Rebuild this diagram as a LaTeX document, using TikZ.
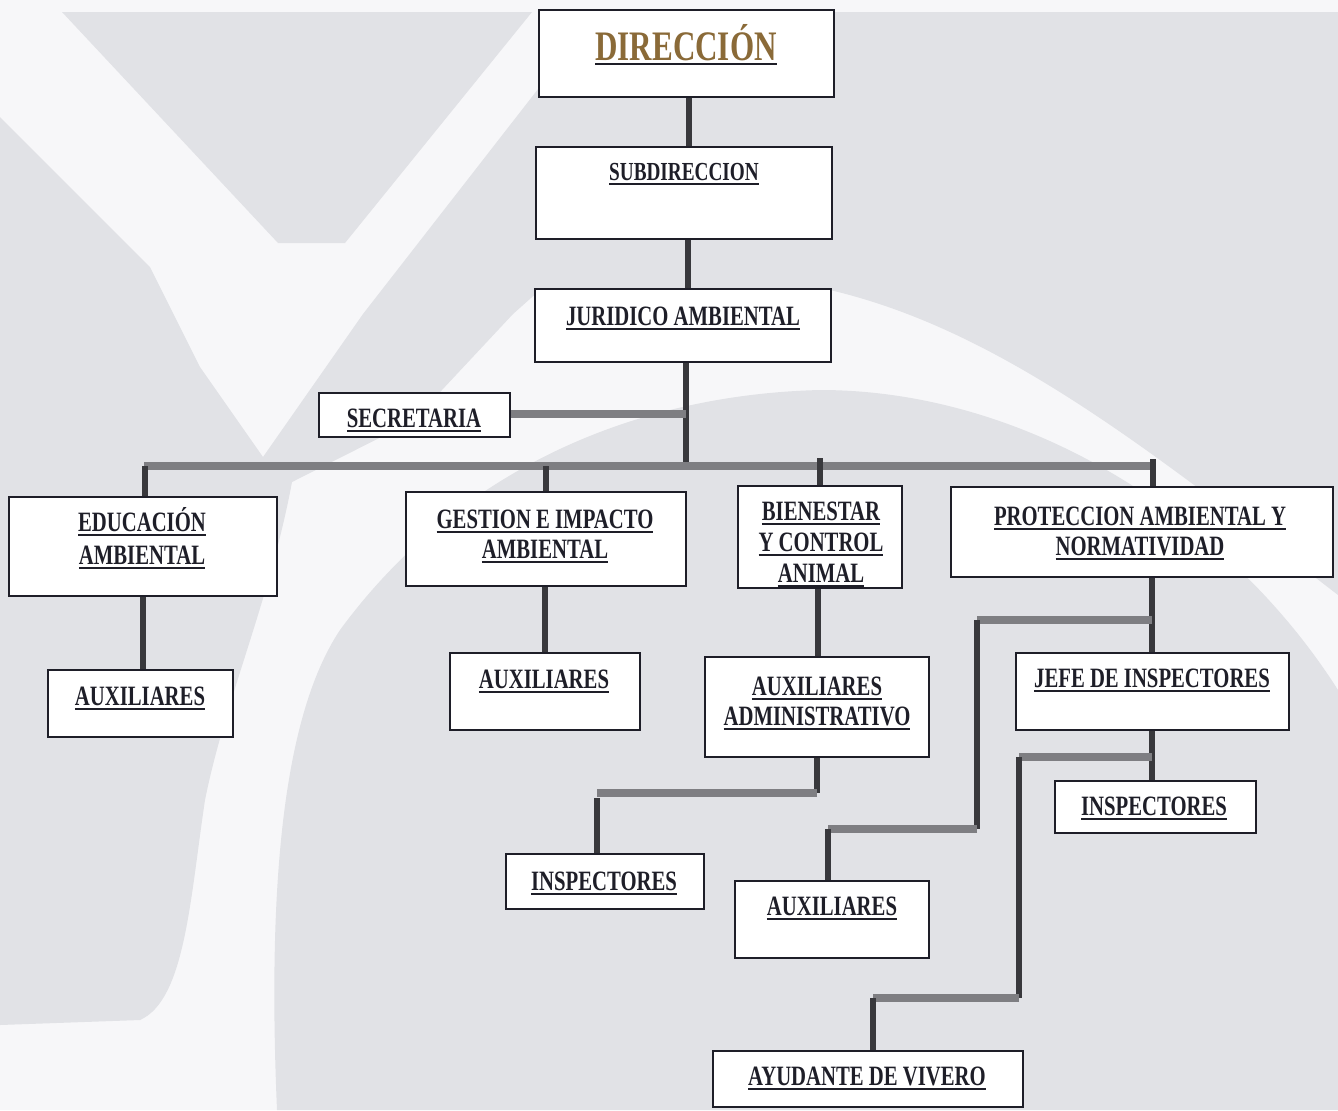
\documentclass[tikz,border=0pt]{standalone}
\usepackage{fontspec}
\newfontfamily\cf[FakeStretch=0.74]{Liberation Serif}
\usetikzlibrary{fit}
\definecolor{bgw}{HTML}{F7F7F9}
\definecolor{bgg}{HTML}{E1E2E6}
\definecolor{ink}{HTML}{1E1E28}
\definecolor{dirc}{HTML}{8A6A38}
\definecolor{vcol}{HTML}{38383C}
\definecolor{hcol}{HTML}{7E7E82}
\newcommand{\ulx}[1]{\setbox0=\hbox{#1}\rlap{\color{ink}\rule[-2.3pt]{\wd0}{1pt}}\box0}
\tikzset{
  box/.style={draw=ink, line width=1.2pt, fill=white, inner sep=0pt},
  lbl/.style={anchor=base, inner sep=0pt, text=ink, font=\cf\bfseries\fontsize{14}{16}\selectfont},
  vl/.style={draw=vcol, line width=2.6pt},
  hl/.style={draw=hcol, line width=3.6pt},
}
\begin{document}
\begin{tikzpicture}[x=0.5pt, y=-0.5pt]
\useasboundingbox (0,0) rectangle (1338,1110);
% background watermark
\fill[bgw] (0,0) rectangle (1338,1110);
\fill[bgg] (62,12) -- (532,12) -- (345,243) -- (278,243) -- cycle;
\fill[bgg] (0,117) -- (150,267) -- (200,367) -- (263,457) -- (363,314) -- (598,12) -- (1338,12) -- (1338,595)
  .. controls (1150,450) and (1000,330) .. (830,290) -- (540,290) -- (513,314) -- (413,421) -- (292,482)
  .. controls (270,600) and (225,700) .. (205,800) .. controls (190,900) and (185,1000) .. (140,1020)
  -- (0,1025) -- cycle;
\fill[bgg] (277,1110) .. controls (268,900) and (280,720) .. (340,630)
  .. controls (450,480) and (620,395) .. (820,390)
  .. controls (1030,390) and (1230,520) .. (1338,690) -- (1338,1110) -- cycle;

% coordinates for connectors
\coordinate (busL) at (144,466);
\coordinate (busR) at (1155,466);
\coordinate (pj) at (1153,459);
\coordinate (bt) at (820,458);
\coordinate (k1) at (817,793);
\coordinate (k2) at (597,793);
\coordinate (k3) at (597,798);
\coordinate (b1) at (977,620);
\coordinate (b2) at (977,829);
\coordinate (b3) at (828,829);
\coordinate (c1) at (1019,757);
\coordinate (c2) at (1019,998);
\coordinate (c3) at (873,998);

% connectors (drawn first, boxes on top)
\draw[vl] (689,97) -- (689,147);
\draw[vl] (688,239) -- (688,289);
\draw[vl] (686,362) -- (686,466);
\draw[hl] (510,414) -- (686,414);
\draw[hl] (busL) -- (busR);
\draw[vl] (145,466) -- (145,497);
\draw[vl] (546,466) -- (546,492);
\draw[vl] (bt) -- (820,486);
\draw[vl] (pj) -- (1153,487);
\draw[vl] (143,596) -- (143,670);
\draw[vl] (545,586) -- (545,653);
\draw[vl] (818,588) -- (818,657);
\draw[vl] (1152,577) -- (1152,653);
\draw[vl] (1152,730) -- (1152,781);
\draw[vl] (k1 |- 0,757) -- (k1);
\draw[hl] (k1) -- (k2);
\draw[vl] (k3) -- (597,854);
\draw[hl] (1152,620) -- (b1);
\draw[vl] (b1) -- (b2);
\draw[hl] (b2) -- (b3);
\draw[vl] (b3) -- (828,881);
\draw[hl] (1152,757) -- (c1);
\draw[vl] (c1) -- (c2);
\draw[hl] (c2) -- (c3);
\draw[vl] (c3) -- (873,1051);

% boxes
\node[box, fit={(539,10) (834,97)}] (dir) {};
\node[box, fit={(536,147) (832,239)}] (sub) {};
\node[box, fit={(535,289) (831,362)}] (jur) {};
\node[box, fit={(319,393) (510,437)}] (sec) {};
\node[box, fit={(9,497) (277,596)}] (edu) {};
\node[box, fit={(406,492) (686,586)}] (ges) {};
\node[box, fit={(738,486) (902,588)}] (bien) {};
\node[box, fit={(951,487) (1333,577)}] (prot) {};
\node[box, fit={(48,670) (233,737)}] (auxE) {};
\node[box, fit={(450,653) (640,730)}] (auxG) {};
\node[box, fit={(705,657) (929,757)}] (auxA) {};
\node[box, fit={(1016,653) (1289,730)}] (jefe) {};
\node[box, fit={(1055,781) (1256,833)}] (insR) {};
\node[box, fit={(506,854) (704,909)}] (insM) {};
\node[box, fit={(735,881) (929,958)}] (auxB) {};
\node[box, fit={(713,1051) (1023,1107)}] (ayu) {};

% texts
\node[lbl, text=dirc, font=\cf\bfseries\fontsize{21}{24}\selectfont] (dir-t) at (686,60) {\ulx{DIRECCIÓN}};
\node[lbl, font=\cf\bfseries\fontsize{13}{15}\selectfont] (sub-t) at (684,180) {\ulx{SUBDIRECCION}};
\node[lbl] (jur-t) at (683,325) {\ulx{JURIDICO AMBIENTAL}};
\node[lbl] (sec-t) at (414,427) {\ulx{SECRETARIA}};
\node[lbl] (edu-t1) at (142,531) {\ulx{EDUCACIÓN}};
\node[lbl] (edu-t2) at (142,564) {\ulx{AMBIENTAL}};
\node[lbl] (ges-t1) at (545,528) {\ulx{GESTION E IMPACTO}};
\node[lbl] (ges-t2) at (545,558) {\ulx{AMBIENTAL}};
\node[lbl] (bien-t1) at (821,520) {\ulx{BIENESTAR}};
\node[lbl] (bien-t2) at (821,551) {\ulx{Y CONTROL}};
\node[lbl] (bien-t3) at (821,582) {\ulx{ANIMAL}};
\node[lbl] (prot-t1) at (1140,525) {\ulx{PROTECCION AMBIENTAL Y}};
\node[lbl] (prot-t2) at (1140,555) {\ulx{NORMATIVIDAD}};
\node[lbl] (auxE-t) at (140,705) {\ulx{AUXILIARES}};
\node[lbl] (auxG-t) at (544,688) {\ulx{AUXILIARES}};
\node[lbl] (auxA-t1) at (817,695) {\ulx{AUXILIARES}};
\node[lbl] (auxA-t2) at (817,725) {\ulx{ADMINISTRATIVO}};
\node[lbl] (jefe-t) at (1152,687) {\ulx{JEFE DE INSPECTORES}};
\node[lbl] (insR-t) at (1154,815) {\ulx{INSPECTORES}};
\node[lbl] (insM-t) at (604,890) {\ulx{INSPECTORES}};
\node[lbl] (auxB-t) at (832,915) {\ulx{AUXILIARES}};
\node[lbl] (ayu-t) at (867,1085) {\ulx{AYUDANTE DE VIVERO}};
\end{tikzpicture}
\end{document}
